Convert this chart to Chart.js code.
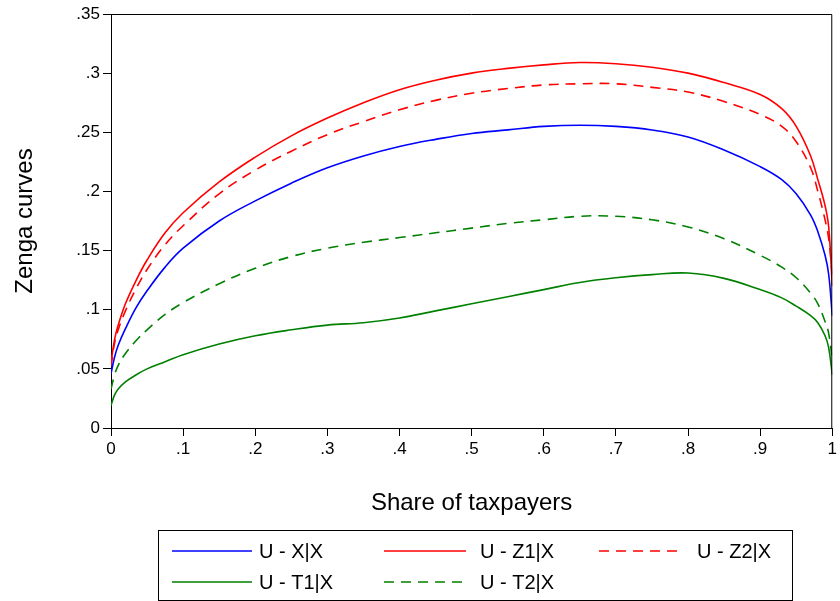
<!DOCTYPE html>
<html>
<head>
<meta charset="utf-8">
<script src="https://cdn.jsdelivr.net/npm/chart.js@4.4.1/dist/chart.umd.min.js"></script>
<style>
  html, body { margin: 0; padding: 0; background: #fff; }
  #wrap { width: 840px; height: 601px; }
</style>
</head>
<body>
<div id="wrap"><canvas id="zenga" width="840" height="601"></canvas></div>
<script>
"use strict"

// share of taxpayers (x) and the Zenga curves
const shares = [0, 0.005, 0.01, 0.02, 0.035, 0.05, 0.075, 0.1, 0.15, 0.2, 0.25, 0.3, 0.35, 0.4, 0.45, 0.5,
                0.55, 0.6, 0.65, 0.7, 0.75, 0.8, 0.85, 0.9, 0.93, 0.95, 0.97, 0.98, 0.99, 0.995, 1];

const uXX  = [0.046, 0.060, 0.070, 0.084, 0.102, 0.116, 0.136, 0.152, 0.175, 0.192, 0.207, 0.220, 0.230, 0.238, 0.244, 0.249,
              0.252, 0.255, 0.256, 0.255, 0.252, 0.246, 0.235, 0.221, 0.210, 0.198, 0.180, 0.166, 0.146, 0.130, 0.095];
const uZ1X = [0.055, 0.075, 0.087, 0.105, 0.125, 0.142, 0.165, 0.182, 0.208, 0.229, 0.247, 0.262, 0.275, 0.286, 0.294, 0.300,
              0.304, 0.307, 0.309, 0.308, 0.305, 0.300, 0.292, 0.282, 0.270, 0.255, 0.230, 0.210, 0.188, 0.170, 0.120];
const uZ2X = [0.052, 0.072, 0.083, 0.099, 0.118, 0.134, 0.155, 0.171, 0.198, 0.218, 0.234, 0.248, 0.259, 0.269, 0.277, 0.283,
              0.287, 0.290, 0.291, 0.291, 0.288, 0.284, 0.276, 0.265, 0.255, 0.242, 0.220, 0.200, 0.176, 0.160, 0.130];
const uT1X = [0.019, 0.028, 0.033, 0.039, 0.045, 0.050, 0.056, 0.062, 0.071, 0.078, 0.083, 0.087, 0.089, 0.093, 0.099, 0.105,
              0.111, 0.117, 0.123, 0.127, 0.1297, 0.131, 0.1265, 0.117, 0.110, 0.103, 0.095, 0.089, 0.078, 0.068, 0.045];
const uT2X = [0.033, 0.045, 0.053, 0.063, 0.074, 0.083, 0.096, 0.106, 0.122, 0.135, 0.145, 0.152, 0.157, 0.161, 0.165, 0.169,
              0.173, 0.176, 0.179, 0.179, 0.176, 0.170, 0.160, 0.146, 0.136, 0.127, 0.114, 0.105, 0.090, 0.080, 0.058];

const seriesNames = ["U - X|X", "U - Z1|X", "U - Z2|X", "U - T1|X", "U - T2|X"];
const seriesValues = [uXX, uZ1X, uZ2X, uT1X, uT2X];
const seriesColors = ["#0000ff", "#ff0000", "#ff0000", "#008000", "#008000"];
const seriesDashed = [false, false, true, false, true];

const xTicks = [0, 0.1, 0.2, 0.3, 0.4, 0.5, 0.6, 0.7, 0.8, 0.9, 1];
const yTicks = [0, 0.05, 0.1, 0.15, 0.2, 0.25, 0.3, 0.35];

const FONT = "'Liberation Sans', Arial, sans-serif";
const DASH = [10, 7];

// stata style numbers: .35 instead of 0.35
function fmt(v) {
  if (Math.abs(v) < 1e-9) return "0";
  return String(+v.toFixed(2)).replace(/^0\./, ".");
}

const datasets = seriesNames.map(function (name, i) {
  return {
    label: name,
    data: shares.map(function (x, j) { return { x: x, y: seriesValues[i][j] }; }),
    borderColor: seriesColors[i],
    backgroundColor: seriesColors[i],
    borderWidth: 1.6,
    borderDash: seriesDashed[i] ? DASH : [],
    pointRadius: 0,
    fill: false,
    tension: 0.4
  };
});

// top + right sides of the plot box
const frame = {
  id: "frame",
  afterDraw(chart) {
    const a = chart.chartArea, ctx = chart.ctx;
    ctx.save();
    ctx.strokeStyle = "#000";
    ctx.lineWidth = 1;
    ctx.beginPath();
    ctx.moveTo(a.left, a.top + 0.5);
    ctx.lineTo(a.right - 0.5, a.top + 0.5);
    ctx.lineTo(a.right - 0.5, a.bottom);
    ctx.stroke();
    ctx.restore();
  }
};

// boxed legend, three columns
const boxLegend = {
  id: "boxLegend",
  afterDraw(chart) {
    const ctx = chart.ctx;
    const cols = [[172, 252, 259], [384, 466, 480], [599, 681, 697]];
    const rows = [551, 582];
    ctx.save();
    ctx.strokeStyle = "#000";
    ctx.lineWidth = 1;
    ctx.strokeRect(158.5, 530.5, 634, 70);
    ctx.font = "20px " + FONT;
    ctx.textBaseline = "middle";
    ctx.fillStyle = "#000";
    chart.data.datasets.forEach(function (ds, i) {
      const c = cols[i % 3], r = rows[Math.floor(i / 3)];
      ctx.strokeStyle = ds.borderColor;
      ctx.lineWidth = 1.6;
      ctx.setLineDash(ds.borderDash || []);
      ctx.beginPath();
      ctx.moveTo(c[0], r);
      ctx.lineTo(c[1], r);
      ctx.stroke();
      ctx.setLineDash([]);
      ctx.fillText(ds.label, c[2], r + 1);
    });
    ctx.restore();
  }
};

new Chart(document.getElementById("zenga"), {
  type: "line",
  data: { datasets: datasets },
  options: {
    responsive: false,
    animation: false,
    events: [],
    layout: { padding: { top: 14, right: 2, bottom: 81, left: 0 } },
    plugins: { legend: { display: false }, tooltip: { enabled: false } },
    scales: {
      x: {
        type: "linear",
        min: 0,
        max: 1,
        afterBuildTicks(scale) { scale.ticks = xTicks.map(function (v) { return { value: v }; }); },
        afterFit(scale) { scale.height = 92; },
        ticks: { callback: fmt, color: "#000", font: { family: FONT, size: 17 }, padding: 3, maxRotation: 0, autoSkip: false },
        grid: { drawOnChartArea: false, drawTicks: true, tickLength: 8, color: "#000" },
        border: { display: true, color: "#000", width: 1 },
        title: { display: true, text: "Share of taxpayers", color: "#000", font: { family: FONT, size: 24 }, padding: { top: 0, bottom: 2 } }
      },
      y: {
        type: "linear",
        min: 0,
        max: 0.35,
        afterBuildTicks(scale) { scale.ticks = yTicks.map(function (v) { return { value: v }; }); },
        afterFit(scale) { scale.width = 111; },
        ticks: { callback: fmt, color: "#000", font: { family: FONT, size: 17 }, padding: 3, autoSkip: false },
        grid: { drawOnChartArea: false, drawTicks: true, tickLength: 8, color: "#000" },
        border: { display: true, color: "#000", width: 1 },
        title: { display: true, text: "Zenga curves", color: "#000", font: { family: FONT, size: 24 }, padding: { top: 11, bottom: 0 } }
      }
    }
  },
  plugins: [frame, boxLegend]
});
</script>
</body>
</html>
